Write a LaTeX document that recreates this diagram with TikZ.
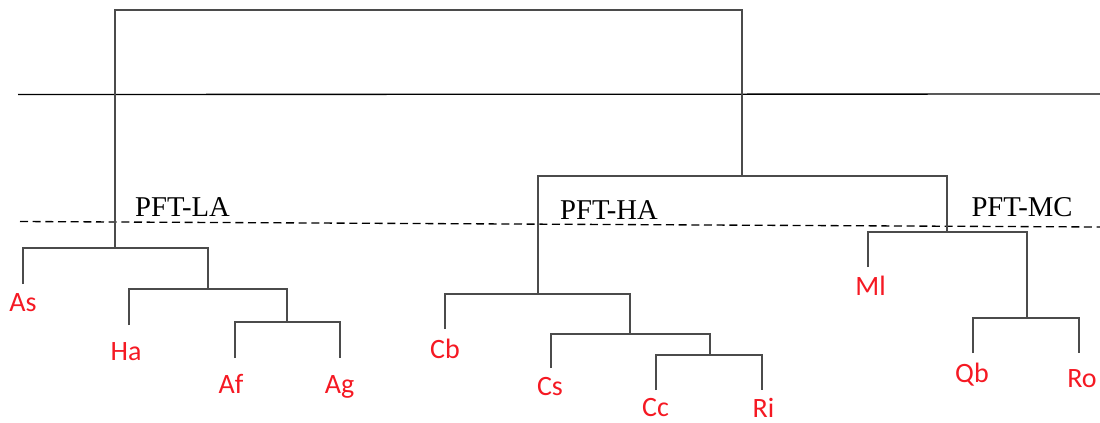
\documentclass[tikz,border=0pt]{standalone}
\usepackage{fontspec}
\setmainfont{Liberation Serif}
\newfontfamily\leaffont{Carlito}
\definecolor{leafred}{RGB}{245,25,35}
\definecolor{treegray}{RGB}{75,75,75}
\tikzset{
	branch/.style={draw=treegray, line width=1pt},
	cutline/.style={draw=black, line width=1pt},
	leaf/.style={text=leafred, font=\leaffont\fontsize{21}{25}\selectfont, anchor=base, inner sep=0pt},
	group/.style={font=\fontsize{21.5}{25}\selectfont, anchor=base, inner sep=0pt}
}
\begin{document}
\begin{tikzpicture}[x=0.75pt, y=-0.75pt]
			\useasboundingbox (0, 0) rectangle (1100, 422);
			% junctions
			\coordinate (root) at (430, 10);
			\coordinate (la) at (115, 248);
			\coordinate (hm) at (742, 176);
			\coordinate (hx) at (208, 289);
			\coordinate (afg) at (287, 322);
			\coordinate (ha) at (538, 294);
			\coordinate (cs) at (630, 334);
			\coordinate (cr) at (710, 355);
			\coordinate (mc) at (947, 232);
			\coordinate (qr) at (1027, 318);
			% leaf tips
			\coordinate (As-tip) at (23, 284);
			\coordinate (Ha-tip) at (129, 325);
			\coordinate (Af-tip) at (235, 358);
			\coordinate (Ag-tip) at (340, 358);
			\coordinate (Cb-tip) at (445, 329);
			\coordinate (Cs-tip) at (551, 368);
			\coordinate (Cc-tip) at (656, 390);
			\coordinate (Ri-tip) at (762, 390);
			\coordinate (Ml-tip) at (868, 267);
			\coordinate (Qb-tip) at (973, 353);
			\coordinate (Ro-tip) at (1079, 353);
			% cut lines
			\draw[cutline] (18, 94.5) -- (1100, 94);
			\draw[cutline, dashed, dash pattern=on 6pt off 3.5pt] (20, 221.5) -- (1100, 227);
			% tree
			\draw[branch] (la) |- (root) -| (hm);
			\draw[branch] (As-tip) |- (la) -| (hx);
			\draw[branch] (Ha-tip) |- (hx) -| (afg);
			\draw[branch] (Af-tip) |- (afg) -| (Ag-tip);
			\draw[branch] (ha) |- (hm) -| (mc);
			\draw[branch] (Cb-tip) |- (ha) -| (cs);
			\draw[branch] (Cs-tip) |- (cs) -| (cr);
			\draw[branch] (Cc-tip) |- (cr) -| (Ri-tip);
			\draw[branch] (Ml-tip) |- (mc) -| (qr);
			\draw[branch] (Qb-tip) |- (qr) -| (Ro-tip);
			% groups
			\node[group] (LA) at (182.5, 216.5) {PFT-LA};
			\node[group] (HA) at (609, 219) {PFT-HA};
			\node[group] (MC) at (1022, 216) {PFT-MC};
			% leaves
			\node[leaf] (As) at (23, 311) {As};
			\node[leaf] (Ha) at (126, 360) {Ha};
			\node[leaf] (Af) at (231, 393) {Af};
			\node[leaf] (Ag) at (339.5, 393) {Ag};
			\node[leaf] (Cb) at (445, 358) {Cb};
			\node[leaf] (Cs) at (550, 395) {Cs};
			\node[leaf] (Cc) at (655.5, 416) {Cc};
			\node[leaf] (Ri) at (763.5, 417) {Ri};
			\node[leaf] (Ml) at (870.5, 295) {Ml};
			\node[leaf] (Qb) at (972, 382) {Qb};
			\node[leaf] (Ro) at (1082, 387) {Ro};
		\end{tikzpicture}
\end{document}
